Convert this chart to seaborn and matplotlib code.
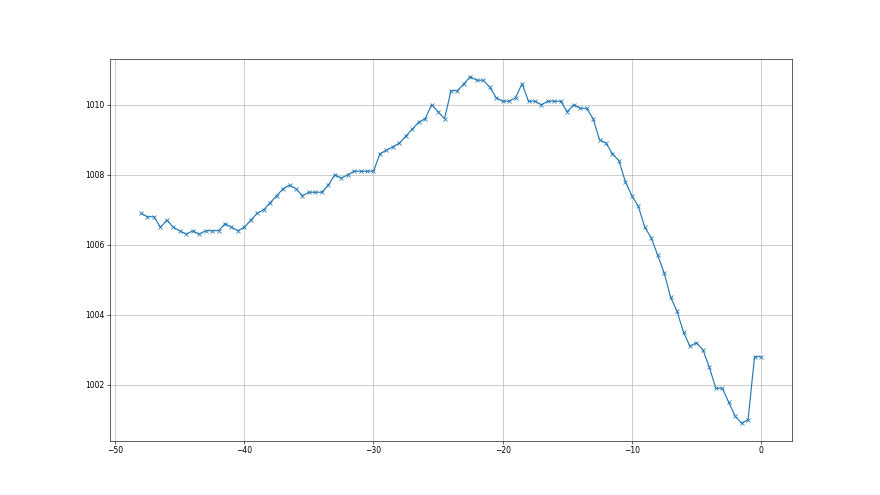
import matplotlib
matplotlib.use("Agg")
import matplotlib.pyplot as plt
import seaborn as sns

# hours relative to now, pressure (hPa)
hours = [-48.0, -47.5, -47.0, -46.5, -46.0, -45.5, -45.0, -44.5, -44.0, -43.5,
         -43.0, -42.5, -42.0, -41.5, -41.0, -40.5, -40.0, -39.5, -39.0, -38.5,
         -38.0, -37.5, -37.0, -36.5, -36.0, -35.5, -35.0, -34.5, -34.0, -33.5,
         -33.0, -32.5, -32.0, -31.5, -31.0, -30.5, -30.0, -29.5, -29.0, -28.5,
         -28.0, -27.5, -27.0, -26.5, -26.0, -25.5, -25.0, -24.5, -24.0, -23.5,
         -23.0, -22.5, -22.0, -21.5, -21.0, -20.5, -20.0, -19.5, -19.0, -18.5,
         -18.0, -17.5, -17.0, -16.5, -16.0, -15.5, -15.0, -14.5, -14.0, -13.5,
         -13.0, -12.5, -12.0, -11.5, -11.0, -10.5, -10.0, -9.5, -9.0, -8.5,
         -8.0, -7.5, -7.0, -6.5, -6.0, -5.5, -5.0, -4.5, -4.0, -3.5,
         -3.0, -2.5, -2.0, -1.5, -1.0, -0.5, 0.0]

pressure = [1006.9, 1006.8, 1006.8, 1006.5, 1006.7, 1006.5, 1006.4, 1006.3, 1006.4, 1006.3,
            1006.4, 1006.4, 1006.4, 1006.6, 1006.5, 1006.4, 1006.5, 1006.7, 1006.9, 1007.0,
            1007.2, 1007.4, 1007.6, 1007.7, 1007.6, 1007.4, 1007.5, 1007.5, 1007.5, 1007.7,
            1008.0, 1007.9, 1008.0, 1008.1, 1008.1, 1008.1, 1008.1, 1008.6, 1008.7, 1008.8,
            1008.9, 1009.1, 1009.3, 1009.5, 1009.6, 1010.0, 1009.8, 1009.6, 1010.4, 1010.4,
            1010.6, 1010.8, 1010.7, 1010.7, 1010.5, 1010.2, 1010.1, 1010.1, 1010.2, 1010.6,
            1010.1, 1010.1, 1010.0, 1010.1, 1010.1, 1010.1, 1009.8, 1010.0, 1009.9, 1009.9,
            1009.6, 1009.0, 1008.9, 1008.6, 1008.4, 1007.8, 1007.4, 1007.1, 1006.5, 1006.2,
            1005.7, 1005.2, 1004.5, 1004.1, 1003.5, 1003.1, 1003.2, 1003.0, 1002.5, 1001.9,
            1001.9, 1001.5, 1001.1, 1000.9, 1001.0, 1002.8, 1002.8]

fig, ax = plt.subplots(figsize=(16, 9), dpi=55)

sns.lineplot(x=hours, y=pressure, ax=ax, color="#1f77b4", marker="x",
             markeredgecolor="#1f77b4", markeredgewidth=1.0, markersize=6,
             linewidth=1.5)

ax.grid(True, color="#b0b0b0", linewidth=0.8)
ax.set_axisbelow(True)

fig.savefig("out.png", dpi=55)
